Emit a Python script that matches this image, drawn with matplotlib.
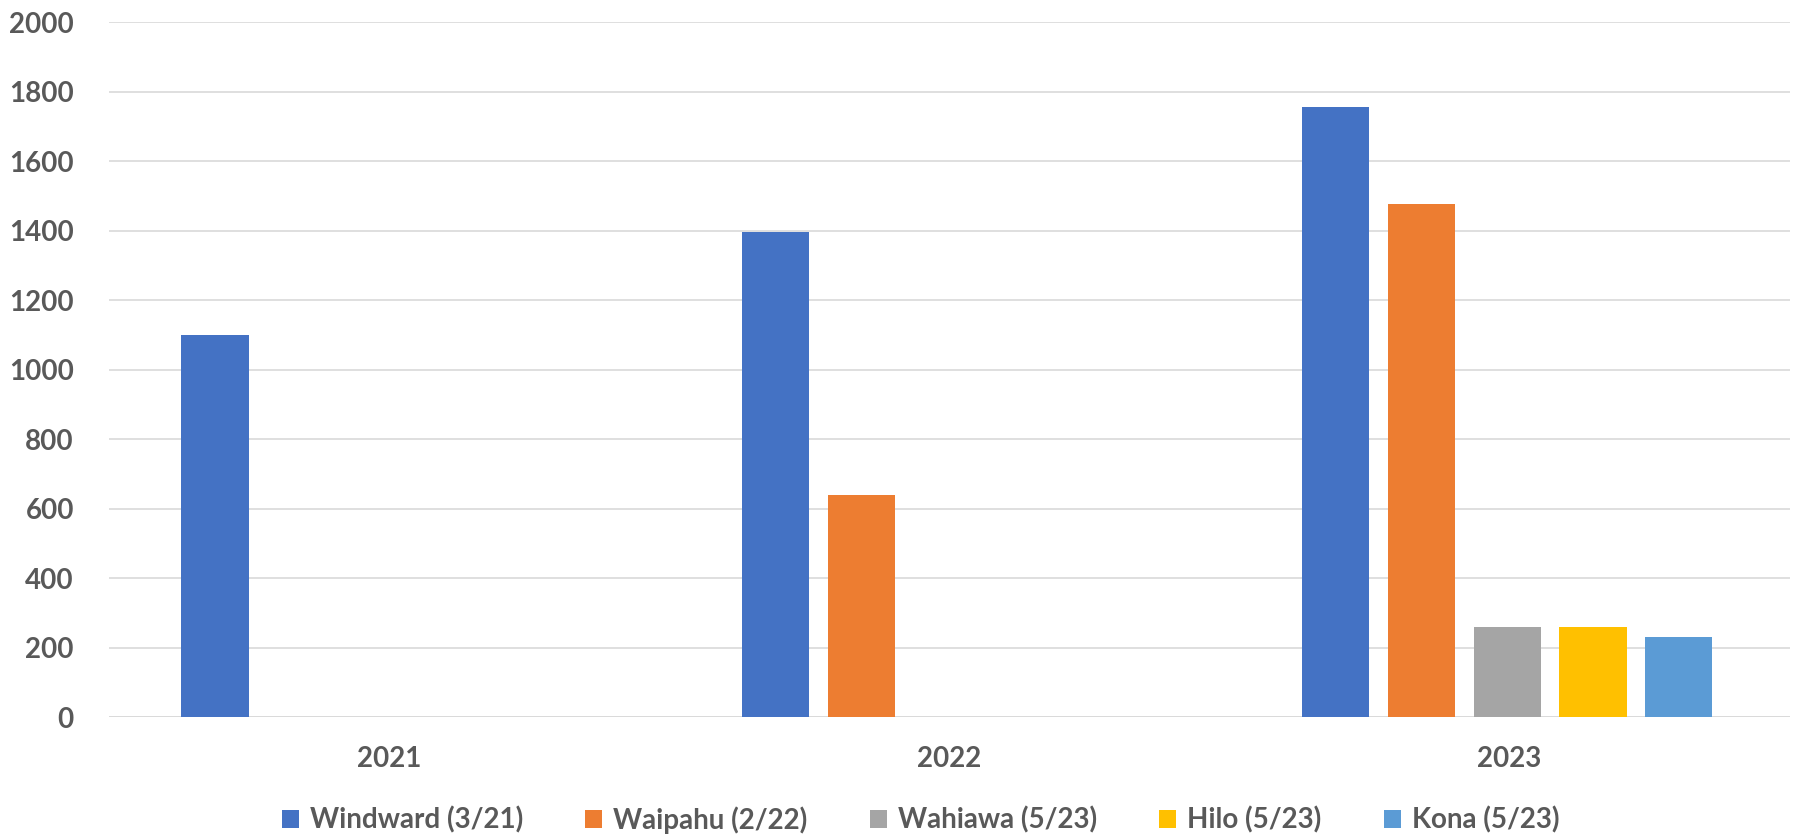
import matplotlib
matplotlib.use("Agg")
import matplotlib.pyplot as plt
import numpy as np

# data
years = ["2021", "2022", "2023"]
series = ["Windward (3/21)", "Waipahu (2/22)", "Wahiawa (5/23)", "Hilo (5/23)", "Kona (5/23)"]
windward = [1100, 1395, 1755]
waipahu = [np.nan, 640, 1475]
wahiawa = [np.nan, np.nan, 260]
hilo = [np.nan, np.nan, 260]
kona = [np.nan, np.nan, 230]
colors = ["#4472C4", "#ED7D31", "#A5A5A5", "#FFC000", "#5B9BD5"]

values = [windward, waipahu, wahiawa, hilo, kona]

plt.rcParams['font.family'] = ['Lato', 'DejaVu Sans']
plt.rcParams['font.weight'] = 'bold'
text_color = "#595959"

fig = plt.figure(figsize=(17.93, 8.4), dpi=100)
ax = fig.add_axes([0.0606, 0.1464, 0.9375, 0.8274])

x = np.arange(len(years))
step = 0.153
width = 0.12
for i, (name, vals, c) in enumerate(zip(series, values, colors)):
    offset = (i - 2) * step
    ax.bar(x + offset - 0.004, vals, width, color=c, label=name, zorder=3)

ax.set_xlim(-0.5, len(years) - 0.5)
ax.set_ylim(0, 2000)
ax.set_yticks(range(0, 2001, 200))
ax.set_xticks(x)
ax.set_xticklabels(years)

ax.yaxis.grid(True, color="#D9D9D9", linewidth=1.2, zorder=0)
ax.set_axisbelow(True)
for s in ax.spines.values():
    s.set_visible(False)
ax.axhline(0, color="#D9D9D9", linewidth=1.2, zorder=1)

ax.tick_params(axis='y', length=0, pad=25, labelsize=20, labelcolor=text_color)
ax.tick_params(axis='x', length=0, pad=21, labelsize=20, labelcolor=text_color)
for lbl in ax.get_xticklabels() + ax.get_yticklabels():
    lbl.set_fontweight('bold')

leg = ax.legend(loc='center', bbox_to_anchor=(0.483, -0.148), ncol=5, frameon=False,
                handlelength=0.6, handleheight=0.6, handletextpad=0.4,
                columnspacing=2.25, prop={'weight': 'bold', 'size': 20})
for t in leg.get_texts():
    t.set_color(text_color)

fig.savefig("out.png", dpi=100)
